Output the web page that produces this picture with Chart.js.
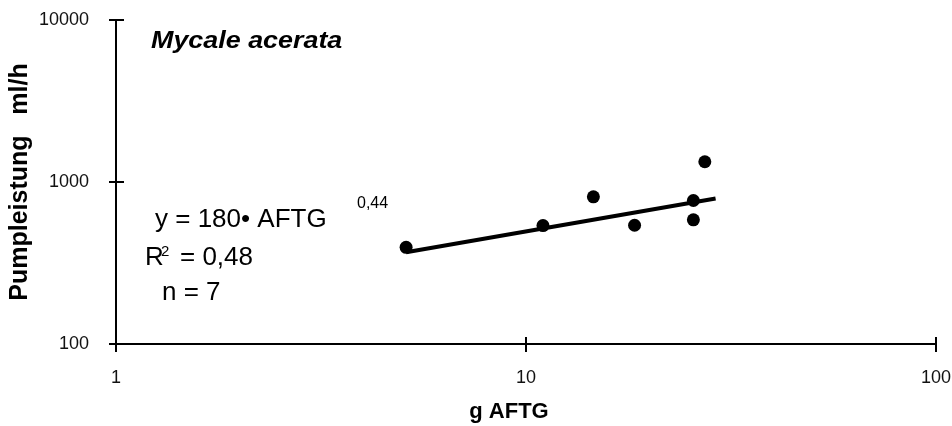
<!DOCTYPE html>
<html>
<head>
<meta charset="utf-8">
<title>Mycale acerata</title>
<script src="https://cdn.jsdelivr.net/npm/chart.js@4.4.1/dist/chart.umd.min.js"></script>
<style>
  html, body { margin: 0; padding: 0; background: #fff; }
  #wrap { width: 952px; height: 426px; }
</style>
</head>
<body>
<div id="wrap"><canvas id="chart" width="952" height="426"></canvas></div>
<script>
// measured sponges: dry ash-free mass (g) and pumping rate (ml/h)
const massAftg = [5.1, 11.0, 14.6, 18.4, 25.6, 25.6, 27.3];
const pumpRate = [395, 538, 810, 541, 769, 584, 1333];

// power-law fit y = a * x^b, drawn over the sampled mass range
const fitA = 180;
const fitB = 0.44;
const fitRange = [5.1, 29];

const xTicks = [1, 10, 100];
const yTicks = [100, 1000, 10000];

const FONT = "'Liberation Sans', Arial, Helvetica, sans-serif";

const points = massAftg.map((x, i) => ({ x, y: pumpRate[i] }));
const fitLine = fitRange.map((x) => ({ x, y: fitA * Math.pow(x, fitB) }));

// no extra room for overhanging edge labels, keep the plot box fixed
const noOverhang = (scale) => {
  scale.paddingTop = 0;
  scale.paddingBottom = 0;
  scale.paddingLeft = 0;
  scale.paddingRight = 0;
};

// crossing tick marks, species name, equation block and x title
const annotations = {
  id: 'annotations',
  afterDraw(chart) {
    const { ctx, chartArea, scales } = chart;
    const { left, bottom } = chartArea;
    ctx.save();
    ctx.strokeStyle = '#000';
    ctx.lineWidth = 2;
    ctx.beginPath();
    yTicks.forEach((v) => {
      const y = Math.round(scales.y.getPixelForValue(v));
      ctx.moveTo(left - 7, y);
      ctx.lineTo(left + 8, y);
    });
    xTicks.forEach((v) => {
      const x = Math.round(scales.x.getPixelForValue(v));
      ctx.moveTo(x, bottom - 7);
      ctx.lineTo(x, bottom + 8);
    });
    ctx.stroke();

    ctx.fillStyle = '#000';
    ctx.textBaseline = 'alphabetic';
    ctx.textAlign = 'left';

    ctx.save();
    ctx.font = `italic bold 24px ${FONT}`;
    ctx.translate(151, 48);
    ctx.scale(1.12, 1);
    ctx.fillText('Mycale acerata', 0, 0);
    ctx.restore();

    ctx.font = `26px ${FONT}`;
    ctx.fillText('y = 180\u2022 AFTG', 155, 227);
    ctx.fillText('R', 145, 265);
    ctx.fillText('= 0,48', 180, 265);
    ctx.fillText('n = 7', 162, 300);

    ctx.font = `16px ${FONT}`;
    ctx.fillText('0,44', 357, 208);
    ctx.font = `15px ${FONT}`;
    ctx.fillText('2', 161, 256);

    ctx.font = `bold 22px ${FONT}`;
    ctx.textAlign = 'center';
    ctx.fillText('g AFTG', 509, 418);
    ctx.restore();
  }
};

new Chart(document.getElementById('chart'), {
  data: {
    datasets: [
      {
        type: 'scatter',
        data: points,
        pointRadius: 6.5,
        pointHoverRadius: 6.5,
        pointBackgroundColor: '#000',
        pointBorderWidth: 0
      },
      {
        type: 'line',
        data: fitLine,
        borderColor: '#000',
        borderWidth: 4,
        pointRadius: 0,
        fill: false
      }
    ]
  },
  options: {
    responsive: false,
    animation: false,
    layout: { padding: { top: 20, right: 16, left: 0, bottom: 0 } },
    plugins: { legend: { display: false }, tooltip: { enabled: false } },
    scales: {
      x: {
        type: 'logarithmic',
        min: 1,
        max: 100,
        afterBuildTicks: (scale) => { scale.ticks = xTicks.map((value) => ({ value })); },
        afterFit: (scale) => { scale.height = 82; noOverhang(scale); },
        grid: { display: false, drawTicks: false },
        border: { display: true, color: '#000', width: 2 },
        ticks: {
          autoSkip: false,
          maxRotation: 0,
          padding: 23,
          color: '#111',
          font: { family: FONT, size: 18 },
          callback: (v) => String(v)
        }
      },
      y: {
        type: 'logarithmic',
        min: 100,
        max: 10000,
        afterBuildTicks: (scale) => { scale.ticks = yTicks.map((value) => ({ value })); },
        afterFit: (scale) => { scale.width = 116; noOverhang(scale); },
        grid: { display: false, drawTicks: false },
        border: { display: true, color: '#000', width: 2 },
        title: {
          display: true,
          text: 'Pumpleistung   ml/h',
          color: '#000',
          font: { family: FONT, size: 25, weight: 'bold' },
          padding: { top: 5, bottom: 0 }
        },
        ticks: {
          padding: 27,
          color: '#111',
          font: { family: FONT, size: 18 },
          callback: (v) => String(v)
        }
      }
    }
  },
  plugins: [annotations]
});
</script>
</body>
</html>
